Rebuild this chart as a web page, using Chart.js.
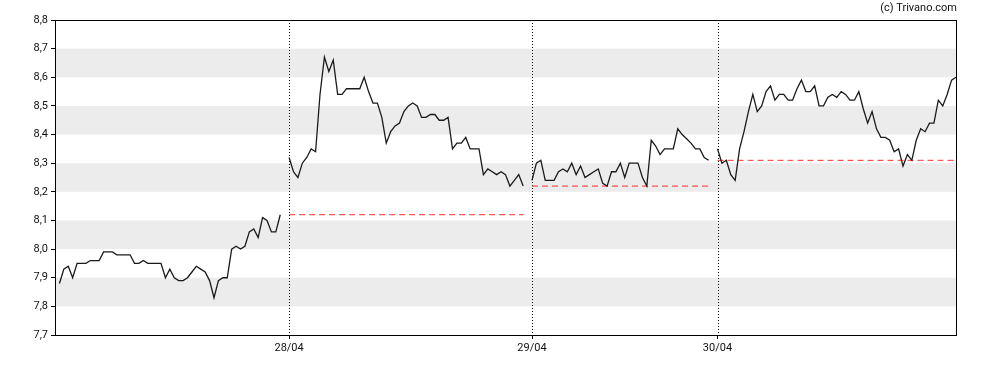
<!DOCTYPE html>
<html>
<head>
<meta charset="utf-8">
<script src="https://cdn.jsdelivr.net/npm/chart.js@4"></script>
<style>
  html, body { margin: 0; padding: 0; background: #fff; }
  #wrap { width: 988px; height: 370px; position: relative; }
</style>
</head>
<body>
<div id="wrap"><canvas id="c" width="988" height="370"></canvas></div>
<script>
// ---- data ----
const dayLabels = ['28/04', '29/04', '30/04'];
const session0 = [7.88, 7.93, 7.94, 7.90, 7.95, 7.95, 7.95, 7.96, 7.96, 7.96, 7.99, 7.99, 7.99, 7.98, 7.98, 7.98, 7.98,
  7.95, 7.95, 7.96, 7.95, 7.95, 7.95, 7.95, 7.90, 7.93, 7.90, 7.89, 7.89, 7.90, 7.92, 7.94, 7.93, 7.92, 7.89, 7.83,
  7.89, 7.90, 7.90, 8.00, 8.01, 8.00, 8.01, 8.06, 8.07, 8.04, 8.11, 8.10, 8.06, 8.06, 8.12];
const session1 = [8.32, 8.27, 8.25, 8.30, 8.32, 8.35, 8.34, 8.54, 8.67, 8.62, 8.66, 8.54, 8.54, 8.56, 8.56, 8.56, 8.56,
  8.60, 8.55, 8.51, 8.51, 8.46, 8.37, 8.41, 8.43, 8.44, 8.48, 8.50, 8.51, 8.50, 8.46, 8.46, 8.47, 8.47, 8.45, 8.45,
  8.46, 8.35, 8.37, 8.37, 8.39, 8.35, 8.35, 8.35, 8.26, 8.28, 8.27, 8.26, 8.27, 8.26, 8.22, 8.24, 8.26, 8.22];
const session2 = [8.24, 8.30, 8.31, 8.24, 8.24, 8.24, 8.27, 8.28, 8.27, 8.30, 8.26, 8.29, 8.25, 8.26, 8.27, 8.28, 8.23,
  8.22, 8.27, 8.27, 8.30, 8.25, 8.30, 8.30, 8.30, 8.25, 8.22, 8.38, 8.36, 8.33, 8.35, 8.35, 8.35, 8.42, 8.40, 8.385,
  8.37, 8.35, 8.35, 8.32, 8.31];
const session3 = [8.35, 8.30, 8.31, 8.26, 8.24, 8.35, 8.41, 8.48, 8.54, 8.48, 8.50, 8.55, 8.57, 8.52, 8.54, 8.54, 8.52,
  8.52, 8.56, 8.59, 8.55, 8.55, 8.57, 8.50, 8.50, 8.53, 8.54, 8.53, 8.55, 8.54, 8.52, 8.52, 8.55, 8.49, 8.44, 8.48,
  8.42, 8.39, 8.39, 8.38, 8.34, 8.35, 8.29, 8.33, 8.31, 8.38, 8.42, 8.41, 8.44, 8.44, 8.52, 8.50, 8.54, 8.59, 8.60];
const prevCloses = [8.12, 8.22, 8.31];   // previous close for sessions 1..3
const yTicksMin = 7.7, yTicksMax = 8.8, yStep = 0.1;

// ---- build the slot table (one empty slot before the first session and between sessions) ----
const sessions = [session0, session1, session2, session3];
const labels = [null];
const price = [null];
const refs = [[null], [null], [null]];
const sessionStart = [];
sessions.forEach((s, si) => {
  if (si > 0) { labels.push(null); price.push(null); refs.forEach(r => r.push(null)); }
  sessionStart.push(labels.length);
  s.forEach((v, i) => {
    labels.push(si > 0 && i === 0 ? dayLabels[si - 1] : '');
    price.push(v);
    refs.forEach((r, ri) => r.push(ri === si - 1 ? prevCloses[ri] : null));
  });
});
const dayIdx = sessionStart.slice(1);

const bandsPlugin = {
  id: 'bands',
  beforeDatasetsDraw(chart) {
    const { ctx, chartArea: a, scales: { x, y } } = chart;
    ctx.save();
    ctx.fillStyle = '#ececec';
    for (let v = 7.8; v < 8.75; v += 0.2) {
      const y1 = y.getPixelForValue(v + 0.1), y2 = y.getPixelForValue(v);
      ctx.fillRect(a.left, y1, a.right - a.left, y2 - y1);
    }
    // dotted day separators
    ctx.strokeStyle = '#000';
    ctx.lineWidth = 1;
    ctx.setLineDash([1, 2]);
    dayIdx.forEach(i => {
      const px = Math.round(x.getPixelForValue(i)) + 0.5;
      ctx.beginPath();
      ctx.moveTo(px, a.top);
      ctx.lineTo(px, a.bottom);
      ctx.stroke();
    });
    ctx.restore();
  },
  afterDraw(chart) {
    const { ctx, chartArea: a } = chart;
    ctx.save();
    ctx.strokeStyle = '#000';
    ctx.lineWidth = 1;
    ctx.strokeRect(Math.round(a.left) + 0.5, Math.round(a.top) + 0.5, Math.round(a.right - a.left), Math.round(a.bottom - a.top));
    ctx.fillStyle = '#111';
    ctx.font = '11px Roboto';
    ctx.textAlign = 'right';
    ctx.textBaseline = 'middle';
    ctx.fillText('(c) Trivano.com', 957, 8);
    ctx.restore();
  }
};

const refStyle = (data) => ({
  data, borderColor: '#ff2a2a', borderWidth: 1, borderDash: [6, 4], pointRadius: 0, spanGaps: false, tension: 0, fill: false
});

new Chart(document.getElementById('c'), {
  type: 'line',
  data: {
    labels,
    datasets: [
      { data: price, borderColor: '#1a1a1a', borderWidth: 1.3, pointRadius: 0, spanGaps: false, tension: 0, fill: false },
      refStyle(refs[0]), refStyle(refs[1]), refStyle(refs[2])
    ]
  },
  options: {
    responsive: false,
    animation: false,
    devicePixelRatio: 1,
    layout: { padding: { top: 20, right: 32, left: 0, bottom: 0 } },
    plugins: { legend: { display: false }, tooltip: { enabled: false } },
    scales: {
      x: {
        type: 'category',
        offset: false,
        afterBuildTicks(scale) { scale.ticks = dayIdx.map(i => ({ value: i })); },
        afterFit(scale) { scale.height = 35; },
        ticks: {
          autoSkip: false, maxRotation: 0, color: '#111', padding: 3,
          font: { family: 'Roboto', size: 11 },
          callback(v) { return labels[v]; }
        },
        grid: { drawOnChartArea: false, tickLength: 4, color: '#000' },
        border: { display: true, color: '#000' }
      },
      y: {
        min: yTicksMin, max: yTicksMax,
        afterFit(scale) { scale.width = 55; },
        ticks: {
          stepSize: yStep, color: '#111', padding: 3,
          font: { family: 'Roboto', size: 11 },
          callback(v) { return v.toFixed(1).replace('.', ','); }
        },
        grid: { drawOnChartArea: false, tickLength: 4, color: '#000' },
        border: { display: true, color: '#000' }
      }
    }
  },
  plugins: [bandsPlugin]
});
</script>
</body>
</html>
